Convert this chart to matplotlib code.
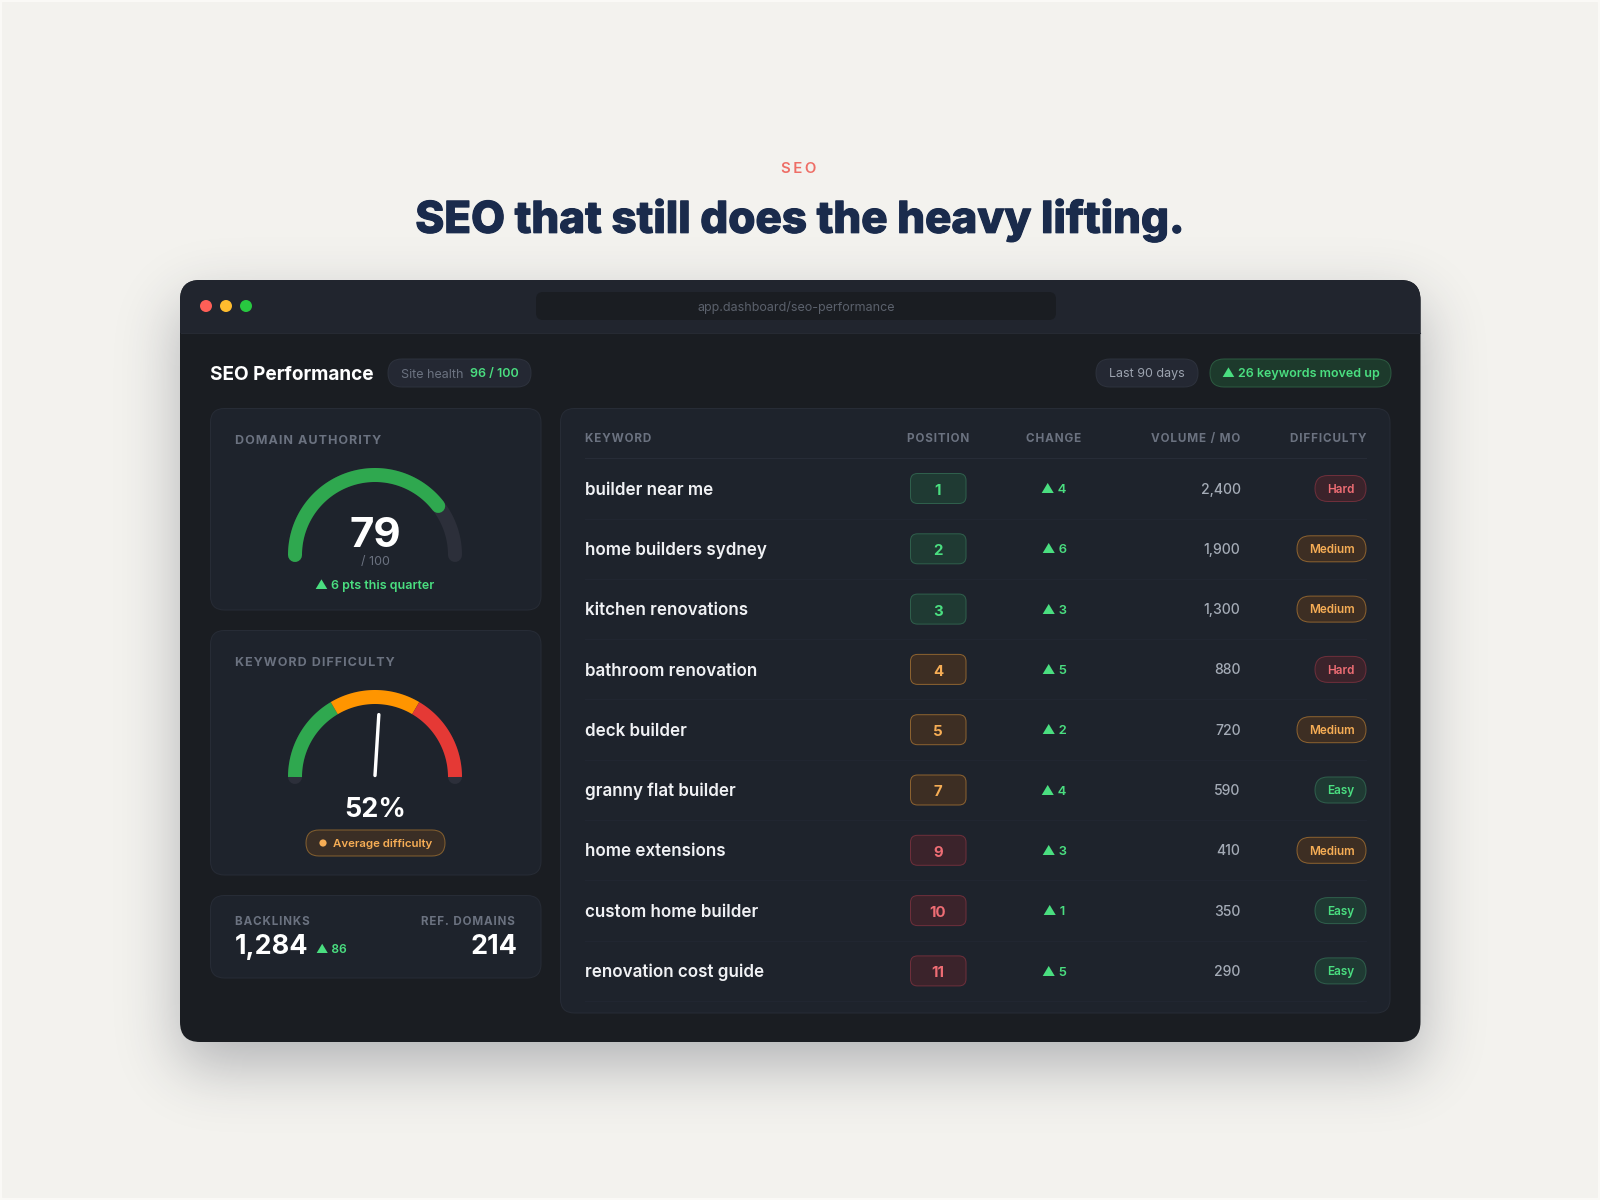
import numpy as np
import matplotlib
matplotlib.use("Agg")
import matplotlib.pyplot as plt
import matplotlib.patheffects as pe
from matplotlib.patches import FancyBboxPatch, Rectangle, Circle

plt.rcParams['font.family'] = ['Inter', 'Liberation Sans', 'DejaVu Sans']

keywords = ["builder near me", "home builders sydney", "kitchen renovations", "bathroom renovation",
            "deck builder", "granny flat builder", "home extensions", "custom home builder",
            "renovation cost guide"]
positions = [1, 2, 3, 4, 5, 7, 9, 10, 11]
changes = [4, 6, 3, 5, 2, 4, 3, 1, 5]
volumes = [2400, 1900, 1300, 880, 720, 590, 410, 350, 290]
difficulty = ["Hard", "Medium", "Medium", "Hard", "Medium", "Easy", "Medium", "Easy", "Easy"]
columns = ["KEYWORD", "POSITION", "CHANGE", "VOLUME / MO", "DIFFICULTY"]

domain_authority = 79
authority_gain = 6
keyword_difficulty = 52
difficulty_zones = [0, 33, 67, 100]
backlinks = 1284
backlinks_gain = 86
ref_domains = 214
site_health = 96
moved_up = 26

GREEN = '#4ade80'
ORANGE = '#f6ad55'
RED = '#ee6d74'
BODY = '#1a1d22'
CARD = '#1e232c'
CARD_EDGE = '#272c36'
MUTED = '#6b7280'
tones = {
    "green": ('#1f3a33', '#2f5f4c', GREEN),
    "orange": ('#3d2e23', '#8c6230', ORANGE),
    "red": ('#3b232b', '#6e2f3b', RED),
}
diff_tones = {"Easy": "green", "Medium": "orange", "Hard": "red"}

fig = plt.figure(figsize=(16, 12), dpi=100, facecolor='#f3f2ee')
ax = fig.add_axes([0, 0, 1, 1])
ax.set_xlim(0, 1600)
ax.set_ylim(1200, 0)
ax.axis('off')


def fs(px):
    return px * 0.72


def box(x0, y0, x1, y1, r, fc, ec='none', lw=1.0, zorder=2, **kw):
    p = FancyBboxPatch((x0, y0), x1 - x0, y1 - y0, boxstyle=f"round,pad=0,rounding_size={r}",
                       fc=fc, ec=ec, lw=lw * 0.72, zorder=zorder, **kw)
    ax.add_patch(p)
    return p


def txt(x, y, s, px, color, weight='normal', ha='left'):
    # y is the middle of the capitals, Inter caps are about .72 em tall
    return ax.text(x, y + 0.36 * px, s, fontsize=fs(px), color=color, fontweight=weight, ha=ha, va='baseline',
                   zorder=4)


def spaced(s, gap='\u200a'):
    return gap.join(s)


def arc(cx, cy, rad, v0, v1, color, lw=14, cap='butt'):
    # gauge goes from 180 deg (value 0) to 0 deg (value 100)
    t = np.radians(180 - np.linspace(v0, v1, 100) * 1.8)
    ax.plot(cx + rad * np.cos(t), cy - rad * np.sin(t), color=color, lw=lw * 0.72, solid_capstyle=cap, zorder=3)


# light frame round the page
ax.add_patch(Rectangle((0, 0), 1600, 1200, fc='none', ec='#faf9f6', lw=3, zorder=0.2))

# soft drop shadow under the window
kernel = np.exp(-0.5 * (np.arange(-120, 121) / 30.0) ** 2)
kernel /= kernel.sum()
sx = np.convolve(((np.arange(1600) >= 180) & (np.arange(1600) < 1421)).astype(float), kernel, mode='same')
sy = np.convolve(((np.arange(1200) >= 304) & (np.arange(1200) < 1066)).astype(float), kernel, mode='same')
shadow = np.zeros((1200, 1600, 4))
shadow[..., :3] = matplotlib.colors.to_rgb('#1a2033')
shadow[..., 3] = 0.3 * np.outer(sy, sx)
ax.imshow(shadow, extent=(0, 1600, 1200, 0), aspect='auto', zorder=0.5, interpolation='bilinear')
ax.set_xlim(0, 1600)
ax.set_ylim(1200, 0)

# window
box(180, 280, 1420.5, 1042, 20, BODY, zorder=1)
bar = box(180, 280, 1420.5, 1042, 20, '#21252e', zorder=1.1)
bar.set_clip_path(Rectangle((180, 280), 1241, 53, transform=ax.transData))
ax.plot([181, 1420], [333, 333], color='#262a33', lw=0.8, zorder=1.2)
for x, c in zip([206, 226, 246], ['#ff5f57', '#febc2e', '#28c840']):
    ax.add_patch(Circle((x, 306), 6, fc=c, ec='none', zorder=2))
box(536, 292, 1056, 320, 7, '#1a1d22')
txt(796, 307, "app.dashboard/seo-performance", 12.5, '#5b616c', ha='center')

# page heading
txt(799, 168, spaced("SEO", '\u2009'), 15, '#ee6e66', 'semibold', ha='center')
head = txt(800, 217, "SEO that still does the heavy lifting.", 43.9, '#1a2b4c', 800, ha='center')
head.set_path_effects([pe.withStroke(linewidth=0.8, foreground='#1a2b4c')])

# header row
txt(210, 373, "SEO Performance", 19, 'white', 'bold')
box(388, 359, 531, 387, 14, '#242833', '#2d323d')
txt(401, 373, "Site health", 12.6, MUTED)
txt(470, 373, f"{site_health} / 100", 12.5, GREEN, 'semibold')
box(1096, 359, 1198, 387, 14, '#242833', '#2d323d')
txt(1147, 373, "Last 90 days", 12.5, '#9ca3af', ha='center')
box(1210, 359, 1391, 387, 14, '#1d3a2c', '#2c5a41')
txt(1301, 373, f"▲ {moved_up} keywords moved up", 12.5, GREEN, 'semibold', ha='center')

# domain authority card
box(210.5, 408.5, 541, 610, 14, CARD, CARD_EDGE, zorder=1.5)
txt(235, 439, spaced("DOMAIN AUTHORITY"), 12.5, MUTED, 'bold')
arc(375, 555, 80, 0, 100, '#2c2f3a', cap='round')
arc(375, 555, 80, 0, domain_authority, '#2fa84f', cap='round')
txt(375, 532, str(domain_authority), 42, 'white', 'bold', ha='center')
txt(375, 561, "/ 100", 12.5, MUTED, ha='center')
txt(375, 585, f"▲ {authority_gain} pts this quarter", 12.5, GREEN, 'semibold', ha='center')

# keyword difficulty card
box(210.5, 630.5, 541, 875, 14, CARD, CARD_EDGE, zorder=1.5)
txt(235, 661, spaced("KEYWORD DIFFICULTY"), 12.5, MUTED, 'bold')
arc(375, 777, 80, 0, 100, '#2c2f3a', cap='round')
for v0, v1, c in zip(difficulty_zones[:-1], difficulty_zones[1:], ['#2fa84f', '#ff9500', '#e53935']):
    arc(375, 777, 80, v0, v1, c)
needle = np.radians(180 - keyword_difficulty * 1.8)
ax.plot([375, 375 + 61 * np.cos(needle)], [775.5, 775.5 - 61 * np.sin(needle)], color='white', lw=3.4 * 0.72,
        solid_capstyle='round', zorder=3)
txt(375, 807, f"{keyword_difficulty}%", 27, 'white', 'bold', ha='center')
box(306, 830, 445, 856, 13, '#3a2e25', '#85602f')
ax.add_patch(Circle((323, 843), 3.6, fc=ORANGE, ec='none', zorder=3))
txt(333, 843, "Average difficulty", 11.5, ORANGE, 'semibold')

# backlinks card
box(210.5, 895.5, 541, 978, 14, CARD, CARD_EDGE, zorder=1.5)
txt(235, 921, spaced("BACKLINKS"), 11.6, MUTED, 'bold')
txt(515, 921, spaced("REF. DOMAINS"), 11.6, MUTED, 'bold', ha='right')
txt(235, 944, f"{backlinks:,}", 27, 'white', 'bold')
txt(316, 949, f"▲ {backlinks_gain}", 12, GREEN, 'semibold')
txt(517, 944, str(ref_domains), 27, 'white', 'bold', ha='right')

# keyword table
box(560.5, 408.5, 1390, 1013, 14, CARD, CARD_EDGE, zorder=1.5)
col_x = [585, 938, 1054, 1240, 1366]
col_ha = ['left', 'center', 'center', 'right', 'right']
for x, ha, name in zip(col_x, col_ha, columns):
    txt(x, 438, spaced(name), 11.7, MUTED, 'bold', ha=ha)
ax.plot([585, 1366], [458, 458], color='#272c37', lw=0.8, zorder=1.6)

row_y = 488.5 + 60.3 * np.arange(len(keywords))
for i, y in enumerate(row_y):
    ax.plot([585, 1366], [y + 30, y + 30], color='#222732', lw=0.7, zorder=1.6)
    txt(585, y, keywords[i], 17, '#f0f1f4', 'semibold')
    pos = positions[i]
    tone = "green" if pos <= 3 else "orange" if pos <= 7 else "red"
    fc, ec, tc = tones[tone]
    box(910.5, y - 15, 966, y + 15, 7, fc, ec)
    txt(938, y + 1, str(pos), 15, tc, 'bold', ha='center')
    txt(1054, y, f"▲ {changes[i]}", 13, GREEN, 'semibold', ha='center')
    txt(1240.5, y, f"{volumes[i]:,}", 14, '#a4abb6', 'medium', ha='right')
    fc, ec, tc = tones[diff_tones[difficulty[i]]]
    w = {"Hard": 51, "Medium": 69, "Easy": 51}[difficulty[i]]
    box(1366 - w, y - 13, 1366, y + 13, 13, fc, ec)
    txt(1366 - w / 2, y, difficulty[i], 11.8, tc, 'semibold', ha='center')

fig.savefig('out.png', dpi=100, facecolor=fig.get_facecolor())
